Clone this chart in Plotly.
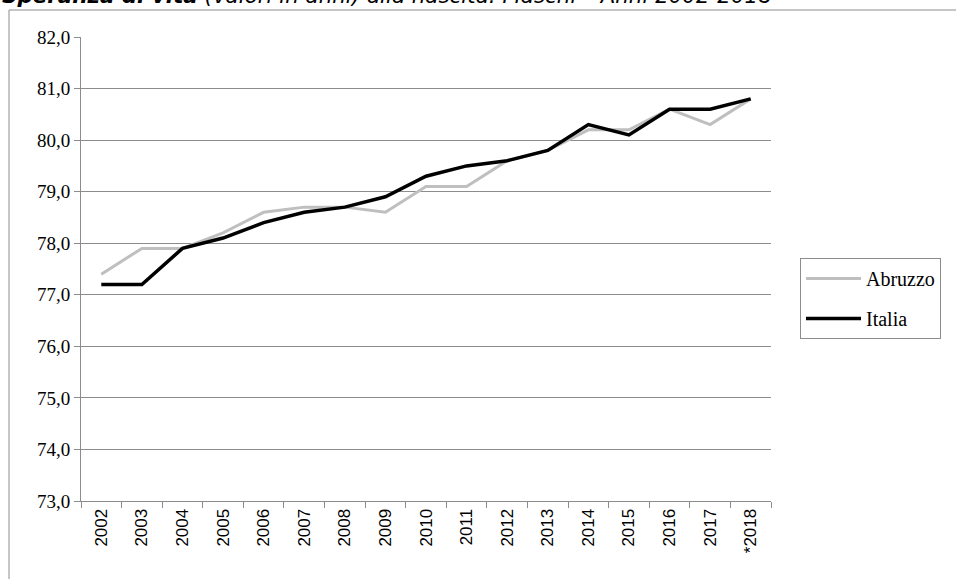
import plotly.graph_objects as go

years = ["2002", "2003", "2004", "2005", "2006", "2007", "2008", "2009", "2010",
         "2011", "2012", "2013", "2014", "2015", "2016", "2017", "*2018"]
abruzzo = [77.4, 77.9, 77.9, 78.2, 78.6, 78.7, 78.7, 78.6, 79.1,
           79.1, 79.6, 79.8, 80.2, 80.2, 80.6, 80.3, 80.8]
italia = [77.2, 77.2, 77.9, 78.1, 78.4, 78.6, 78.7, 78.9, 79.3,
          79.5, 79.6, 79.8, 80.3, 80.1, 80.6, 80.6, 80.8]
y_ticks = [73, 74, 75, 76, 77, 78, 79, 80, 81, 82]

W, H = 956, 579
L, R, T, B = 81, 771, 37, 501


def px_x(x):
    return (x - L) / (R - L)


def px_y(y):
    return (B - y) / (B - T)


fig = go.Figure()
fig.add_trace(go.Scatter(x=years, y=abruzzo, mode="lines", name="Abruzzo",
                         legendgroup="a",
                         line=dict(color="#bfbfbf", width=3)))
fig.add_trace(go.Scatter(x=years, y=italia, mode="lines", name="Italia",
                         legendgroup="b",
                         line=dict(color="#000000", width=3.5)))

fig.update_layout(
    width=W, height=H,
    margin=dict(l=L, r=W - R, t=T, b=H - B),
    paper_bgcolor="white", plot_bgcolor="white",
    separators=",.",
    showlegend=True,
    legend=dict(
        x=px_x(800), y=px_y(258), xanchor="left", yanchor="top",
        bordercolor="#8c8c8c", borderwidth=1,
        font=dict(family="Liberation Serif", size=20, color="#000"),
        tracegroupgap=11, itemwidth=55,
        traceorder="grouped",
    ),
    xaxis=dict(
        type="category", range=[-0.5, 16.5], tickson="boundaries",
        showgrid=False, showline=True, linecolor="#8c8c8c", linewidth=1,
        ticks="outside", ticklen=6, tickcolor="#8c8c8c",
        tickangle=-90,
        tickfont=dict(family="Liberation Sans", size=17, color="#000"),
    ),
    yaxis=dict(
        range=[73, 82], tickvals=y_ticks, tickformat=".1f",
        showgrid=True, gridcolor="#8c8c8c", gridwidth=1,
        showline=True, linecolor="#8c8c8c", linewidth=1,
        ticks="outside", ticklen=6, tickcolor="#8c8c8c",
        tickfont=dict(family="Liberation Serif", size=19, color="#000"),
        zeroline=False,
    ),
    annotations=[dict(
        xref="paper", yref="paper", x=px_x(0), y=px_y(10),
        xanchor="left", yanchor="bottom", showarrow=False,
        text="<b><i>Speranza di vita</i></b><i> (valori in anni) alla nascita. Maschi – Anni 2002-2018</i>",
        font=dict(family="DejaVu Sans", size=21.4, color="#000"),
    )],
    shapes=[
        dict(type="line", xref="paper", yref="paper",
             x0=px_x(9), x1=px_x(960), y0=px_y(10), y1=px_y(10),
             line=dict(color="#8c8c8c", width=1)),
        dict(type="line", xref="paper", yref="paper",
             x0=px_x(9), x1=px_x(9), y0=px_y(10), y1=px_y(585),
             line=dict(color="#8c8c8c", width=1)),
    ],
)

fig.write_html("out.html", config={"displayModeBar": False},
               post_script="document.body.style.margin='0';document.body.style.overflow='hidden';")
